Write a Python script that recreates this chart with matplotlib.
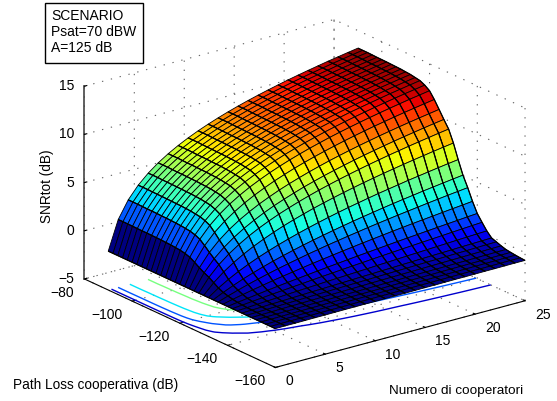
import numpy as np
import matplotlib
matplotlib.use('Agg')
import matplotlib.pyplot as plt
from matplotlib import cm
from matplotlib.colors import Normalize
from matplotlib.patches import Rectangle
from mpl_toolkits.mplot3d import proj3d

# cooperators along the columns, path loss along the rows
cooperators = list(range(0, 26))
path_loss = list(range(-90, -162, -2))

base = [-0.97, 2.04, 3.80, 5.05, 6.02, 6.81, 7.48, 8.06, 8.57, 9.03, 9.44, 9.82, 10.17, 10.49, 10.79, 11.07, 11.33, 11.58, 11.82, 12.04, 12.25, 12.45, 12.65, 12.83, 13.01, 13.18]

snr_tot = [
    base,
    base,
    base,
    [-0.97, 2.03, 3.79, 5.03, 6.00, 6.79, 7.46, 8.04, 8.55, 9.01, 9.42, 9.80, 10.15, 10.47, 10.77, 11.05, 11.31, 11.56, 11.80, 12.02, 12.23, 12.43, 12.63, 12.81, 12.99, 13.16],
    [-0.97, 2.02, 3.77, 5.02, 5.99, 6.77, 7.44, 8.02, 8.53, 8.99, 9.40, 9.78, 10.13, 10.45, 10.75, 11.03, 11.29, 11.54, 11.78, 12.00, 12.21, 12.41, 12.61, 12.79, 12.97, 13.14],
    [-0.97, 2.01, 3.77, 5.01, 5.98, 6.77, 7.44, 8.02, 8.52, 8.98, 9.39, 9.77, 10.12, 10.44, 10.74, 11.02, 11.28, 11.53, 11.77, 11.99, 12.20, 12.40, 12.60, 12.78, 12.96, 13.13],
    [-0.97, 2.01, 3.76, 5.00, 5.97, 6.76, 7.42, 8.00, 8.51, 8.97, 9.38, 9.76, 10.11, 10.43, 10.73, 11.01, 11.27, 11.52, 11.76, 11.98, 12.19, 12.39, 12.59, 12.77, 12.95, 13.12],
    [-0.97, 2.00, 3.74, 4.98, 5.95, 6.74, 7.41, 7.98, 8.49, 8.95, 9.36, 9.74, 10.09, 10.41, 10.71, 10.99, 11.25, 11.50, 11.74, 11.96, 12.17, 12.37, 12.57, 12.75, 12.93, 13.10],
    [-0.97, 1.99, 3.73, 4.97, 5.93, 6.72, 7.39, 7.96, 8.47, 8.93, 9.34, 9.72, 10.07, 10.39, 10.69, 10.97, 11.23, 11.48, 11.72, 11.94, 12.15, 12.35, 12.55, 12.73, 12.91, 13.08],
    [-0.97, 1.98, 3.71, 4.95, 5.92, 6.70, 7.37, 7.95, 8.45, 8.91, 9.32, 9.70, 10.05, 10.37, 10.67, 10.95, 11.21, 11.46, 11.70, 11.92, 12.13, 12.33, 12.53, 12.71, 12.89, 13.06],
    [-0.97, 1.95, 3.68, 4.92, 5.88, 6.66, 7.33, 7.90, 8.41, 8.87, 9.28, 9.66, 10.01, 10.33, 10.63, 10.91, 11.17, 11.41, 11.65, 11.87, 12.08, 12.28, 12.48, 12.66, 12.84, 13.01],
    [-0.97, 1.93, 3.65, 4.88, 5.84, 6.63, 7.29, 7.86, 8.37, 8.83, 9.24, 9.62, 9.96, 10.28, 10.58, 10.86, 11.12, 11.37, 11.61, 11.83, 12.04, 12.24, 12.44, 12.62, 12.80, 12.97],
    [-0.97, 1.88, 3.59, 4.81, 5.77, 6.55, 7.21, 7.78, 8.29, 8.75, 9.15, 9.53, 9.88, 10.20, 10.50, 10.78, 11.03, 11.28, 11.52, 11.74, 11.95, 12.15, 12.35, 12.53, 12.71, 12.88],
    [-0.97, 1.83, 3.52, 4.74, 5.69, 6.47, 7.13, 7.70, 8.20, 8.66, 9.07, 9.45, 9.79, 10.11, 10.41, 10.69, 10.95, 11.20, 11.44, 11.65, 11.86, 12.06, 12.26, 12.44, 12.62, 12.79],
    [-0.97, 1.73, 3.38, 4.57, 5.50, 6.27, 6.93, 7.49, 7.99, 8.44, 8.85, 9.23, 9.57, 9.89, 10.18, 10.46, 10.72, 10.97, 11.20, 11.42, 11.63, 11.83, 12.02, 12.21, 12.38, 12.55],
    [-0.97, 1.56, 3.15, 4.31, 5.22, 5.98, 6.62, 7.18, 7.67, 8.12, 8.52, 8.89, 9.23, 9.55, 9.84, 10.12, 10.38, 10.62, 10.85, 11.07, 11.28, 11.48, 11.67, 11.86, 12.03, 12.20],
    [-0.97, 1.26, 2.72, 3.82, 4.69, 5.41, 6.04, 6.58, 7.06, 7.50, 7.89, 8.26, 8.59, 8.90, 9.19, 9.46, 9.72, 9.96, 10.19, 10.41, 10.61, 10.81, 11.00, 11.18, 11.35, 11.52],
    [-0.97, 0.93, 2.25, 3.26, 4.08, 4.77, 5.36, 5.89, 6.35, 6.78, 7.16, 7.51, 7.84, 8.14, 8.43, 8.69, 8.94, 9.18, 9.40, 9.62, 9.82, 10.02, 10.20, 10.38, 10.55, 10.72],
    [-0.97, 0.64, 1.82, 2.74, 3.50, 4.15, 4.71, 5.21, 5.66, 6.06, 6.43, 6.78, 7.09, 7.39, 7.66, 7.92, 8.17, 8.40, 8.62, 8.83, 9.03, 9.22, 9.40, 9.58, 9.75, 9.91],
    [-0.97, 0.40, 1.44, 2.27, 2.97, 3.58, 4.11, 4.58, 5.01, 5.39, 5.75, 6.08, 6.39, 6.67, 6.94, 7.19, 7.43, 7.66, 7.87, 8.08, 8.27, 8.46, 8.64, 8.81, 8.98, 9.14],
    [-0.97, 0.07, 0.91, 1.61, 2.21, 2.74, 3.21, 3.64, 4.03, 4.38, 4.71, 5.02, 5.30, 5.57, 5.82, 6.06, 6.29, 6.50, 6.71, 6.90, 7.09, 7.27, 7.44, 7.61, 7.77, 7.92],
    [-0.97, -0.25, 0.37, 0.91, 1.39, 1.82, 2.21, 2.57, 2.90, 3.21, 3.50, 3.77, 4.03, 4.27, 4.50, 4.71, 4.92, 5.12, 5.30, 5.48, 5.66, 5.82, 5.98, 6.14, 6.29, 6.43],
    [-0.97, -0.48, -0.04, 0.37, 0.73, 1.07, 1.39, 1.68, 1.95, 2.21, 2.45, 2.68, 2.90, 3.11, 3.31, 3.50, 3.68, 3.86, 4.03, 4.19, 4.34, 4.50, 4.64, 4.78, 4.92, 5.05],
    [-0.97, -0.62, -0.29, 0.02, 0.30, 0.57, 0.82, 1.06, 1.28, 1.50, 1.70, 1.90, 2.08, 2.26, 2.43, 2.60, 2.76, 2.91, 3.06, 3.20, 3.34, 3.48, 3.61, 3.74, 3.86, 3.98],
    [-0.97, -0.74, -0.52, -0.31, -0.11, 0.09, 0.27, 0.44, 0.61, 0.78, 0.93, 1.08, 1.23, 1.37, 1.51, 1.64, 1.77, 1.90, 2.02, 2.14, 2.25, 2.36, 2.47, 2.58, 2.68, 2.79],
    [-0.97, -0.82, -0.68, -0.54, -0.40, -0.27, -0.14, -0.02, 0.10, 0.22, 0.33, 0.44, 0.55, 0.66, 0.76, 0.86, 0.96, 1.06, 1.15, 1.24, 1.33, 1.42, 1.51, 1.59, 1.68, 1.76],
    [-0.97, -0.87, -0.77, -0.67, -0.57, -0.48, -0.39, -0.30, -0.21, -0.12, -0.04, 0.05, 0.13, 0.21, 0.29, 0.37, 0.44, 0.52, 0.59, 0.66, 0.73, 0.80, 0.87, 0.94, 1.01, 1.07],
    [-0.97, -0.91, -0.84, -0.78, -0.72, -0.65, -0.59, -0.53, -0.47, -0.41, -0.36, -0.31, -0.25, -0.20, -0.14, -0.09, -0.04, 0.02, 0.07, 0.12, 0.17, 0.22, 0.27, 0.32, 0.37, 0.41],
    [-0.97, -0.93, -0.89, -0.85, -0.82, -0.78, -0.74, -0.70, -0.67, -0.63, -0.60, -0.56, -0.52, -0.49, -0.45, -0.42, -0.38, -0.35, -0.31, -0.28, -0.25, -0.22, -0.18, -0.15, -0.12, -0.09],
    [-0.97, -0.94, -0.91, -0.88, -0.85, -0.82, -0.79, -0.76, -0.73, -0.70, -0.67, -0.65, -0.62, -0.59, -0.56, -0.53, -0.51, -0.48, -0.45, -0.43, -0.40, -0.37, -0.35, -0.32, -0.29, -0.27],
    [-0.97, -0.95, -0.93, -0.90, -0.88, -0.86, -0.84, -0.82, -0.80, -0.78, -0.76, -0.74, -0.71, -0.69, -0.67, -0.65, -0.63, -0.61, -0.59, -0.57, -0.55, -0.53, -0.51, -0.49, -0.47, -0.45],
    [-0.97, -0.95, -0.94, -0.92, -0.91, -0.89, -0.88, -0.86, -0.85, -0.83, -0.82, -0.80, -0.79, -0.77, -0.76, -0.74, -0.73, -0.71, -0.70, -0.69, -0.67, -0.66, -0.64, -0.63, -0.61, -0.60],
    [-0.97, -0.96, -0.95, -0.93, -0.92, -0.91, -0.90, -0.89, -0.87, -0.86, -0.85, -0.84, -0.83, -0.81, -0.80, -0.79, -0.78, -0.77, -0.75, -0.74, -0.73, -0.72, -0.71, -0.69, -0.68, -0.67],
    [-0.97, -0.96, -0.95, -0.94, -0.93, -0.92, -0.91, -0.90, -0.89, -0.88, -0.87, -0.87, -0.86, -0.85, -0.84, -0.83, -0.82, -0.81, -0.80, -0.79, -0.78, -0.77, -0.76, -0.75, -0.74, -0.73],
    [-0.97, -0.96, -0.95, -0.95, -0.94, -0.93, -0.92, -0.92, -0.91, -0.90, -0.89, -0.88, -0.88, -0.87, -0.86, -0.85, -0.85, -0.84, -0.83, -0.82, -0.81, -0.81, -0.80, -0.79, -0.78, -0.78],
    [-0.97, -0.96, -0.96, -0.95, -0.94, -0.94, -0.93, -0.92, -0.92, -0.91, -0.91, -0.90, -0.89, -0.89, -0.88, -0.87, -0.87, -0.86, -0.85, -0.85, -0.84, -0.83, -0.83, -0.82, -0.81, -0.81],
]

contour_levels = [0, 2, 4, 6, 8, 10, 12]
x_ticks = [0, 5, 10, 15, 20, 25]
y_ticks = [-160, -140, -120, -100, -80]
z_ticks = [-5, 0, 5, 10, 15]

plt.rcParams['font.family'] = ['Liberation Sans', 'DejaVu Sans']
plt.rcParams['font.size'] = 10
plt.rcParams['grid.linestyle'] = (0, (1.2, 7))
plt.rcParams['grid.linewidth'] = 0.8
plt.rcParams['grid.color'] = '#666666'

W, H = 557, 402
fig = plt.figure(figsize=(W / 100, H / 100), dpi=100)

# square axes sized so one unit of box aspect is about one pixel
side = 476
left = 304.7 - 0.5135 * side
bottom = (H - 194.5) - 0.5135 * side
ax = fig.add_axes([left / W, bottom / H, side / W, side / H],
                  projection='3d', computed_zorder=False)
ax.patch.set_visible(False)
ax.set_proj_type('ortho')
ax.view_init(elev=20.6, azim=-127.2)
ax.set_box_aspect((313.6, 316, 206))

X, Y = np.meshgrid(cooperators, path_loss)
Z = np.array(snr_tot)
norm = Normalize(vmin=Z.min(), vmax=Z.max())

ax.contour(X, Y, Z, levels=contour_levels, zdir='z', offset=-5,
           cmap='jet', norm=norm, linewidths=1.0, zorder=1)
ax.plot_surface(X, Y, Z, rstride=1, cstride=1, facecolors=cm.jet(norm(Z)),
                shade=False, edgecolor='k', linewidth=0.6, zorder=2)
# the lines at constant number of cooperators look heavier in the original
ax.plot_wireframe(X, Y, Z, rstride=0, cstride=1, color='k', linewidth=0.9, zorder=3)

ax.set_xlim(0, 25, view_margin=0)
ax.set_ylim(-160, -80, view_margin=0)
ax.set_zlim(-5, 15, view_margin=0)
ax.set_xticks(x_ticks)
ax.set_yticks(y_ticks)
ax.set_zticks(z_ticks)
ax.set_xticklabels([])
ax.set_yticklabels([])
ax.set_zticklabels([])

for axis in (ax.xaxis, ax.yaxis, ax.zaxis):
    axis.set_pane_color((1, 1, 1, 0))
    axis.pane.set_edgecolor('none')
    axis.line.set_color('k')
    axis.line.set_linewidth(0.8)
    axis._axinfo['tick']['inward_factor'] = 0
    axis._axinfo['tick']['outward_factor'] = 0.12
ax.zaxis.line.set_color('#444444')
ax.zaxis.line.set_linewidth(1.2)


def tick_label(x, y, z, text, dx, dy, ha):
    px, py, _ = proj3d.proj_transform(x, y, z, ax.get_proj())
    ax.annotate(text, xy=(px, py), xycoords='data', xytext=(dx, dy), textcoords='offset pixels',
                ha=ha, va='center', fontsize=10, annotation_clip=False)


for t in x_ticks:
    tick_label(t, -160, -5, f'{t}', 10, -13, 'left')
for t in y_ticks:
    tick_label(0, t, -5, f'{t}'.replace('-', '\u2212'), -10, -13, 'right')
for t in z_ticks:
    tick_label(0, -80, t, f'{t}'.replace('-', '\u2212'), -10, 1, 'right')

fig.text(96 / W, 1 - 385 / H, 'Path Loss cooperativa (dB)', ha='center', va='center', fontsize=9.8)
fig.text(456 / W, 1 - 391 / H, 'Numero di cooperatori', ha='center', va='center', fontsize=9.7)
fig.text(47 / W, 1 - 186 / H, 'SNRtot (dB)', ha='center', va='center', rotation=90, fontsize=9.8)

fig.add_artist(Rectangle((45 / W, 1 - 64 / H), 98 / W, 60 / H, transform=fig.transFigure,
                         facecolor='w', edgecolor='k', linewidth=1))
fig.text(51 / W, 1 - 16 / H, 'SCENARIO', va='center', fontsize=10)
fig.text(51 / W, 1 - 32 / H, 'Psat=70 dBW', va='center', fontsize=10)
fig.text(51 / W, 1 - 47.5 / H, 'A=125 dB', va='center', fontsize=10)

fig.savefig('out.png', dpi=100)
